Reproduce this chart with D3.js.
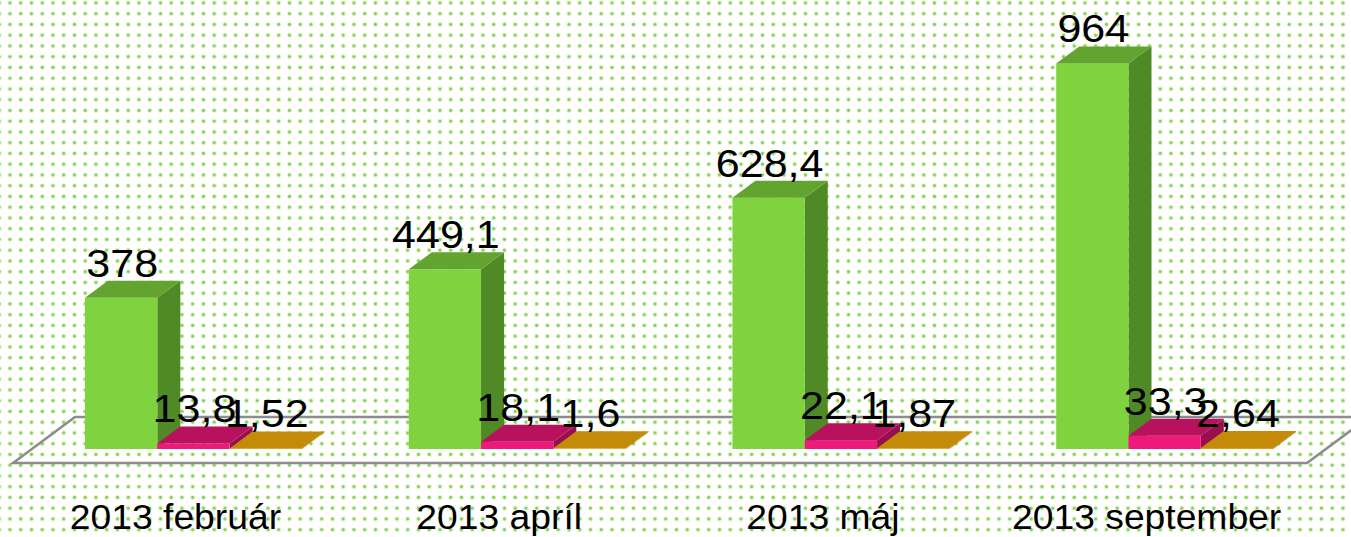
<!DOCTYPE html>
<meta charset="utf-8">
<style>
    body {
        margin: 0;
        background: #fff;
    }

    text {
        font-family: "Liberation Sans", Arial, sans-serif;
        fill: #000;
    }
</style>
<svg width="1351" height="537"></svg>
<script src="https://cdn.jsdelivr.net/npm/d3@7"></script>
<script>
    // data
    var categories = ["2013 február", "2013 apríl", "2013 máj", "2013 september"];
    var seriesGreen = [378, 449.1, 628.4, 964];
    var seriesPink = [13.8, 18.1, 22.1, 33.3];
    var seriesGold = [1.52, 1.6, 1.87, 2.64];

    var series = [
        { values: seriesGreen, front: "#7ed33e", top: "#63a431", side: "#508a27" },
        { values: seriesPink, front: "#ee1a7b", top: "#b8125e", side: "#980e4e" },
        { values: seriesGold, front: "#d8a012", top: "#c48b08", side: "#a57406" }
    ];

    var svg = d3.select("svg"),
        width = +svg.attr("width"),
        height = +svg.attr("height");

    var base = 449,
        dx = 23,
        dy = -17;

    // dotted background
    var defs = svg.append("defs");
    var pat = defs.append("pattern")
        .attr("id", "dots")
        .attr("patternUnits", "userSpaceOnUse")
        .attr("x", 4.6)
        .attr("y", -2.4)
        .attr("width", 10.75)
        .attr("height", 10.75);
    pat.append("circle").attr("cx", 5.375).attr("cy", 5.375).attr("r", 2.3).attr("fill", "#d3efc0");
    pat.append("circle").attr("cx", 5.375).attr("cy", 5.375).attr("r", 1.4).attr("fill", "#7cce42");

    svg.append("rect")
        .attr("width", width)
        .attr("height", height)
        .attr("fill", "url(#dots)");

    var x = d3.scaleBand()
        .domain(categories)
        .range([31.6, 1326.5])
        .paddingInner(0.33)
        .paddingOuter(0.165);

    var xs = d3.scaleBand()
        .domain(d3.range(series.length))
        .range([0, x.bandwidth()]);

    var y = d3.scaleLinear()
        .domain([0, 1000])
        .range([base, 49]);

    // floor
    var floor = [[13, 463], [1307, 463], [1369, 417], [75, 417]];
    svg.append("path")
        .attr("d", "M" + floor.join("L") + "Z")
        .attr("fill", "none")
        .attr("stroke", "#8c8c8c")
        .attr("stroke-width", 2.5);

    var fmt = function (v) { return String(v).replace(".", ","); };

    var bars = svg.append("g");
    var labels = svg.append("g");

    categories.forEach(function (c, i) {
        series.forEach(function (s, j) {
            var v = s.values[i];
            var x0 = x(c) + xs(j),
                x1 = x0 + xs.bandwidth(),
                yt = y(v);
            var g = bars.append("g");
            g.append("path")
                .attr("d", "M" + [[x1, yt], [x1 + dx, yt + dy], [x1 + dx, base + dy], [x1, base]].join("L") + "Z")
                .attr("fill", s.side);
            g.append("rect")
                .attr("x", x0)
                .attr("y", yt)
                .attr("width", x1 - x0)
                .attr("height", Math.max(base - yt, 0.5))
                .attr("fill", s.front);
            g.append("path")
                .attr("d", "M" + [[x0, yt], [x1, yt], [x1 + dx, yt + dy], [x0 + dx, yt + dy]].join("L") + "Z")
                .attr("fill", s.top);

            labels.append("text")
                .attr("transform", "translate(" + ((x0 + x1) / 2 + 1) + "," + (yt + dy - 4) + ") scale(1.09,1)")
                .attr("text-anchor", "middle")
                .style("font-size", "39.5px")
                .text(fmt(v));
        });
    });

    // category labels along the front edge of the floor
    svg.append("g")
        .selectAll("text")
        .data(categories)
        .enter().append("text")
        .attr("transform", function (d) {
            return "translate(" + (x(d) + x.bandwidth() / 2 - 18) + ",529) scale(1.08,1)";
        })
        .attr("text-anchor", "middle")
        .style("font-size", "34.5px")
        .text(function (d) { return d; });
</script>
